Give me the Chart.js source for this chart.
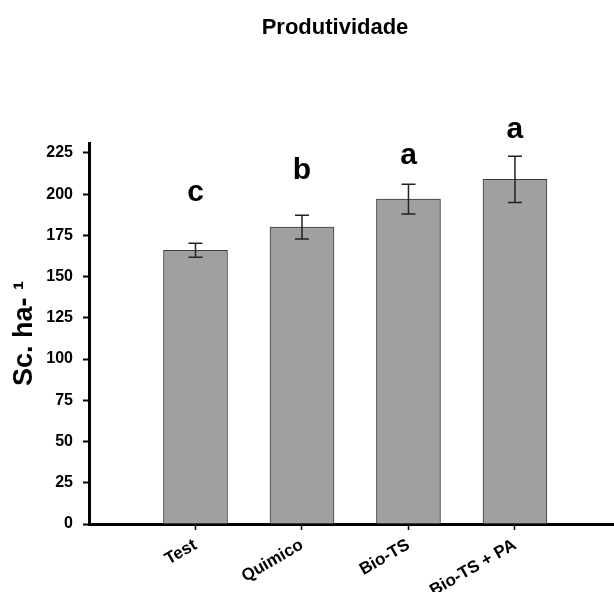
<!DOCTYPE html>
<html>
<head>
<meta charset="utf-8">
<script src="https://cdn.jsdelivr.net/npm/chart.js@4.4.1/dist/chart.umd.min.js"></script>
<style>
html,body{margin:0;padding:0;background:#fff;}
#wrap{width:614px;height:592px;position:relative;}
</style>
</head>
<body>
<div id="wrap"><canvas id="c" width="614" height="592"></canvas></div>
<script>
const chartTitle = 'Produtividade';
const yAxisTitle = 'Sc. ha- \u00b9';
const categories = ['Test', 'Quimico', 'Bio-TS', 'Bio-TS + PA'];
const means = [166, 180, 197, 209];
const errors = [4.2, 7.2, 9, 14];
const letters = ['c', 'b', 'a', 'a'];
const letterValues = [201, 214, 223, 239];
const yTickValues = [0, 25, 50, 75, 100, 125, 150, 175, 200, 225];

const FONT = '"Liberation Sans", Arial, Helvetica, sans-serif';

const extrasPlugin = {
  id: 'extras',
  afterDatasetsDraw(chart) {
    const ctx = chart.ctx;
    const meta = chart.getDatasetMeta(0);
    const ys = chart.scales.y;
    ctx.save();
    ctx.strokeStyle = '#222';
    ctx.lineWidth = 1.5;
    meta.data.forEach((bar, i) => {
      const x = bar.x;
      const t = ys.getPixelForValue(means[i] + errors[i]);
      const b = ys.getPixelForValue(means[i] - errors[i]);
      ctx.beginPath();
      ctx.moveTo(x, t); ctx.lineTo(x, b);
      ctx.moveTo(x - 7, t); ctx.lineTo(x + 7, t);
      ctx.moveTo(x - 7, b); ctx.lineTo(x + 7, b);
      ctx.stroke();
      ctx.fillStyle = '#000';
      ctx.font = 'bold 30px ' + FONT;
      ctx.textAlign = 'center';
      ctx.textBaseline = 'middle';
      ctx.fillText(letters[i], x, ys.getPixelForValue(letterValues[i]));
    });
    ctx.restore();
  },
  afterDraw(chart) {
    const ctx = chart.ctx;
    ctx.save();
    ctx.fillStyle = '#000';
    ctx.font = 'bold 22px ' + FONT;
    ctx.textAlign = 'center';
    ctx.textBaseline = 'middle';
    ctx.fillText(chartTitle, 335, 28);
    ctx.restore();
  }
};

new Chart(document.getElementById('c'), {
  type: 'bar',
  data: {
    datasets: [{
      data: means.map((v, i) => ({ x: i, y: v })),
      backgroundColor: '#a0a0a0',
      borderColor: '#3a3a3a',
      borderWidth: 1,
      barThickness: 64
    }]
  },
  options: {
    responsive: false,
    animation: false,
    events: [],
    layout: { padding: { left: 8, right: 0, top: 143, bottom: 0 } },
    plugins: { legend: { display: false }, tooltip: { enabled: false }, title: { display: false } },
    scales: {
      x: {
        type: 'linear',
        offset: false,
        min: -1,
        max: 3.93,
        afterBuildTicks(scale) { scale.ticks = categories.map((c, i) => ({ value: i })); },
        afterFit(scale) { scale.height = 68; },
        ticks: {
          autoSkip: false,
          minRotation: 30,
          maxRotation: 30,
          padding: 5,
          color: '#000',
          font: { family: FONT, size: 17, weight: 'bold' },
          callback: (v) => categories[v]
        },
        grid: { offset: false, drawOnChartArea: false, drawTicks: true, tickLength: 6, tickWidth: 1.5, color: '#000' },
        border: { display: true, width: 3, color: '#000' }
      },
      y: {
        min: 0,
        max: 231,
        afterBuildTicks(scale) { scale.ticks = yTickValues.map(v => ({ value: v })); },
        afterFit(scale) { scale.width = 81; },
        ticks: {
          padding: 10,
          color: '#000',
          font: { family: FONT, size: 16, weight: 'bold' }
        },
        title: {
          display: true,
          text: yAxisTitle,
          color: '#000',
          padding: { top: 0, bottom: 0 },
          font: { family: FONT, size: 27, weight: 'bold' }
        },
        grid: { drawOnChartArea: false, drawTicks: true, tickLength: 6, tickWidth: 2, color: '#000' },
        border: { display: true, width: 3, color: '#000' }
      }
    }
  },
  plugins: [extrasPlugin]
});
</script>
</body>
</html>
